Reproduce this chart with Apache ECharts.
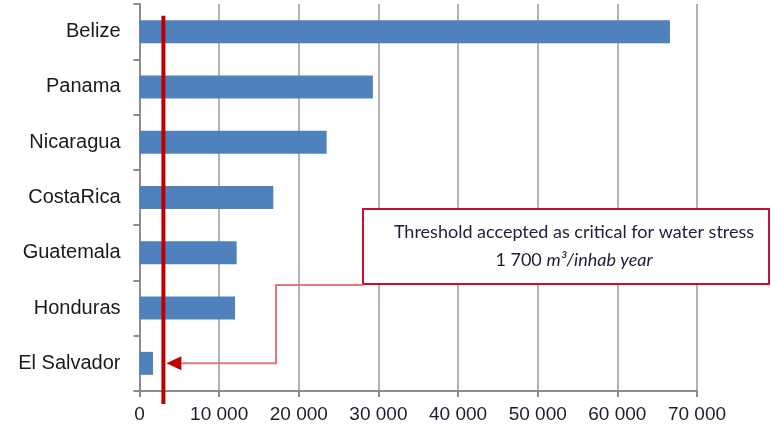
<!DOCTYPE html>
<html>
<head>
<meta charset="utf-8">
<script src="https://cdn.jsdelivr.net/npm/echarts@6/dist/echarts.min.js"></script>
<style>
html,body{margin:0;padding:0;background:#fff;}
#chart{width:771px;height:426px;}
</style>
</head>
<body>
<div id="chart"></div>
<script>
var categories = ['Belize', 'Panama', 'Nicaragua', 'CostaRica', 'Guatemala', 'Honduras', 'El Salvador'];
var values = [66600, 29300, 23500, 16800, 12200, 12000, 1700];
var thresholdValue = 3000;
var xTicks = { min: 0, max: 70000, interval: 10000 };
var noteLine1 = 'Threshold accepted as critical for water stress';
var noteLine2a = '1 700 ';
var noteLine2b = 'm³/inhab year';

var chart = echarts.init(document.getElementById('chart'), null, { renderer: 'canvas' });

function fmt(v) {
  return String(v).replace(/\B(?=(\d{3})+(?!\d))/g, ' ');
}

var option = {
  animation: false,
  backgroundColor: '#ffffff',
  grid: { left: 139.5, right: 74, top: 4, bottom: 35, containLabel: false },
  xAxis: {
    type: 'value',
    min: xTicks.min, max: xTicks.max, interval: xTicks.interval,
    axisLine: { show: true, lineStyle: { color: '#8c8c8c', width: 2 } },
    axisTick: { show: true, length: 6, lineStyle: { color: '#8c8c8c', width: 2 } },
    splitLine: { show: true, lineStyle: { color: '#b3b3b3', width: 2 } },
    axisLabel: { fontSize: 19, color: '#1c1c2e', margin: 14, fontFamily: 'Liberation Sans, Arial, sans-serif', formatter: fmt }
  },
  yAxis: {
    type: 'category',
    inverse: true,
    data: categories,
    axisLine: { show: true, lineStyle: { color: '#8c8c8c', width: 2 } },
    axisTick: { show: true, length: 6, alignWithLabel: false, lineStyle: { color: '#8c8c8c', width: 2 } },
    splitLine: { show: false },
    axisLabel: { fontSize: 20, color: '#1a1a1a', margin: 19, fontFamily: 'Liberation Sans, Arial, sans-serif' }
  },
  series: [{
    type: 'bar',
    data: values,
    barWidth: 23,
    itemStyle: { color: '#4f81bd' }
  }]
};
chart.setOption(option);

var tx = chart.convertToPixel({ xAxisIndex: 0 }, thresholdValue);
var yTop = chart.convertToPixel({ yAxisIndex: 0 }, categories[0]);
var yLast = chart.convertToPixel({ yAxisIndex: 0 }, categories[categories.length - 1]);
var axisY = yLast + (yLast - yTop) / (categories.length - 1) / 2;

var boxX = 363, boxY = 209, boxW = 406, boxH = 75;
var elbowX = 276;
var tipX = tx + 3;

chart.setOption({
  graphic: [
    {
      type: 'line', z: 100,
      shape: { x1: tx, y1: yTop - 16, x2: tx, y2: axisY + 13 },
      style: { stroke: '#c00000', lineWidth: 4 }
    },
    {
      type: 'polyline', z: 99,
      shape: { points: [[boxX, boxY + boxH + 1], [elbowX, boxY + boxH + 1], [elbowX, yLast], [tipX + 14, yLast]] },
      style: { stroke: '#e07a7a', lineWidth: 2, fill: null }
    },
    {
      type: 'polygon', z: 101,
      shape: { points: [[tipX, yLast], [tipX + 15, yLast - 7], [tipX + 15, yLast + 7]] },
      style: { fill: '#c00000' }
    },
    {
      type: 'rect', z: 98,
      shape: { x: boxX, y: boxY, width: boxW, height: boxH },
      style: { fill: '#ffffff', stroke: '#c8102e', lineWidth: 2 }
    },
    {
      type: 'text', z: 102,
      x: boxX + 211, y: boxY + 23,
      style: { text: noteLine1, fill: '#1e1e3c', font: '18px Lato, "Open Sans", sans-serif', align: 'center', verticalAlign: 'middle' }
    },
    {
      type: 'text', z: 102,
      x: boxX + 211, y: boxY + 51,
      style: {
        text: '{a|' + noteLine2a + '}{b|' + noteLine2b + '}',
        align: 'center', verticalAlign: 'middle',
        rich: {
          a: { fill: '#1e1e3c', font: '18px Lato, "Open Sans", sans-serif' },
          b: { fill: '#1e1e3c', font: 'italic 18px Lato, "Open Sans", sans-serif' }
        }
      }
    }
  ]
});
</script>
</body>
</html>
